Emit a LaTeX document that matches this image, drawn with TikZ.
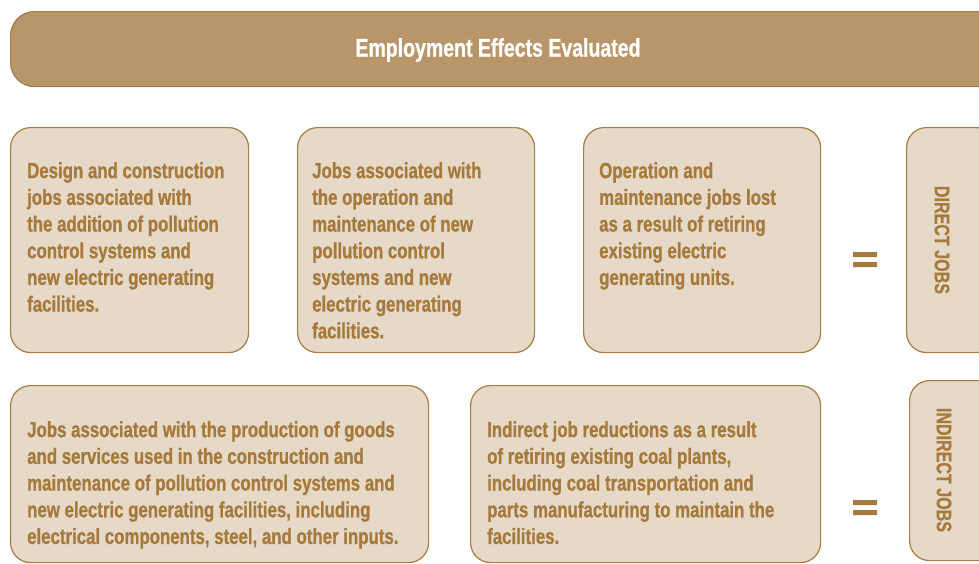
\documentclass[tikz,border=0pt]{standalone}
\usepackage{fontspec}
\newfontfamily\condfont[FakeStretch=0.765, BoldFeatures={FakeBold=0.8}]{Liberation Sans}
\definecolor{boxfill}{HTML}{E6D9C7}
\definecolor{boxline}{HTML}{A87C42}
\definecolor{textbrown}{HTML}{A67A3C}
\definecolor{headfill}{HTML}{B8966A}
\definecolor{headline}{HTML}{A27B4A}
\begin{document}
\begin{tikzpicture}[x=1pt,y=-1pt, line join=round, line cap=round,
	box/.style={draw=boxline, fill=boxfill, line width=1.2pt, rounded corners=20pt, anchor=north west, inner sep=0pt},
	txt/.style={anchor=north west, inner sep=0pt, align=left, text=textbrown, font=\condfont\bfseries\fontsize{22}{26.7}\selectfont},
	sidetxt/.style={inner sep=0pt, text=textbrown, rotate=-90, font=\condfont\bfseries\fontsize{21}{24}\selectfont},
	eqbar/.style={fill=textbrown}]
	\useasboundingbox (0,0) rectangle (979,563);
	\clip (0,0) rectangle (979,563);
	% header
	\node[box, draw=headline, fill=headfill, rounded corners=24pt, minimum width=1010pt, minimum height=75pt] (title) at (10,11) {};
	\node[txt, anchor=center, text=white, font=\condfont\bfseries\fontsize{25.5}{28}\selectfont] (titletxt) at (498,50) {Employment Effects Evaluated};
	% direct jobs row
	\node[box, minimum width=238pt, minimum height=225pt] (design) at (10,127) {};
	\node[box, minimum width=237pt, minimum height=225pt] (operate) at (297,127) {};
	\node[box, minimum width=237pt, minimum height=225pt] (retire) at (583,127) {};
	\node[box, minimum width=90pt, minimum height=225pt] (direct) at (906,127) {};
	\node[txt] (designtxt) at ([xshift=17pt,yshift=-35pt]design.north west) {Design and construction\\jobs associated with\\the addition of pollution\\control systems and\\new electric generating\\facilities.};
	\node[txt] (operatetxt) at ([xshift=15pt,yshift=-35pt]operate.north west) {Jobs associated with\\the operation and\\maintenance of new\\pollution control\\systems and new\\electric generating\\facilities.};
	\node[txt] (retiretxt) at ([xshift=16pt,yshift=-35pt]retire.north west) {Operation and\\maintenance jobs lost\\as a result of retiring\\existing electric\\generating units.};
	\node[sidetxt] (directtxt) at (942,240) {DIRECT JOBS};
	\fill[eqbar] (853,252) rectangle (877,257) (853,262) rectangle (877,267);
	% indirect jobs row
	\node[box, minimum width=418pt, minimum height=177pt] (supply) at (10,385) {};
	\node[box, minimum width=350pt, minimum height=177pt] (coal) at (470,385) {};
	\node[box, minimum width=90pt, minimum height=180pt] (indirect) at (909,380) {};
	\node[txt] (supplytxt) at ([xshift=17pt,yshift=-36pt]supply.north west) {Jobs associated with the production of goods\\and services used in the construction and\\maintenance of pollution control systems and\\new electric generating facilities, including\\electrical components, steel, and other inputs.};
	\node[txt] (coaltxt) at ([xshift=17pt,yshift=-36pt]coal.north west) {Indirect job reductions as a result\\of retiring existing coal plants,\\including coal transportation and\\parts manufacturing to maintain the\\facilities.};
	\node[sidetxt] (indirecttxt) at (944,470) {INDIRECT JOBS};
	\fill[eqbar] (853,500) rectangle (877,505) (853,510) rectangle (877,515);
\end{tikzpicture}
\end{document}
